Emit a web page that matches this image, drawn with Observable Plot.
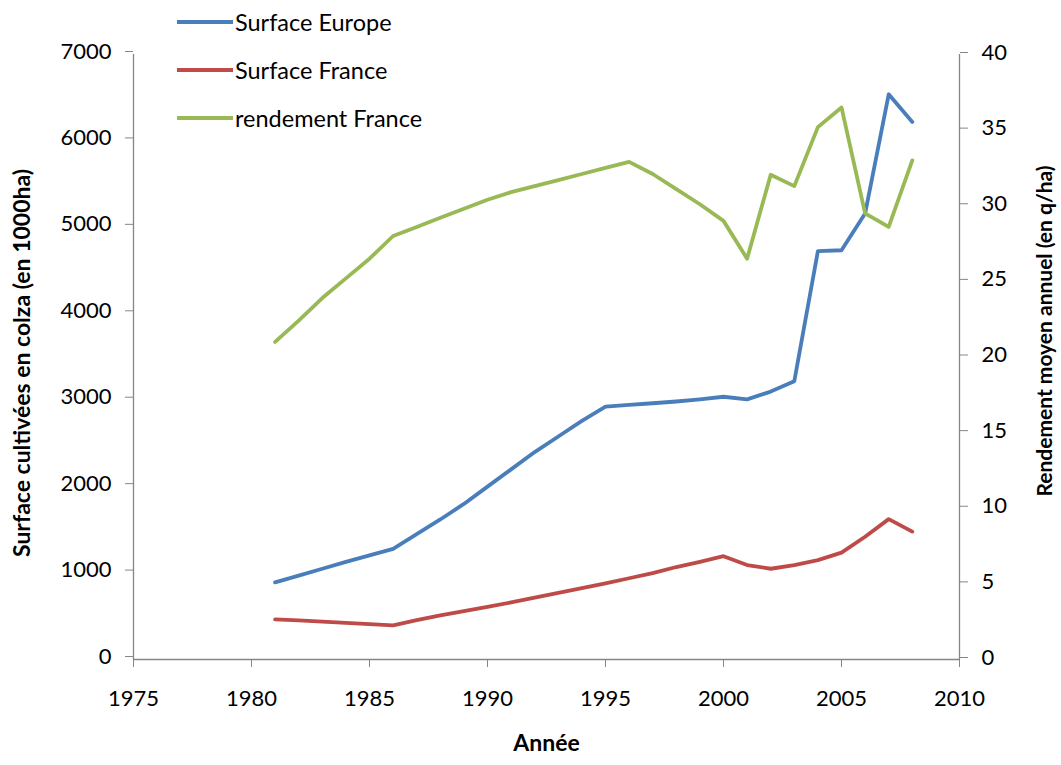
<!DOCTYPE html>
<html>
<head>
<meta charset="utf-8">
<script src="https://cdn.jsdelivr.net/npm/d3@7"></script>
<script src="https://cdn.jsdelivr.net/npm/@observablehq/plot@0.6"></script>
<style>
  html, body { margin: 0; padding: 0; background: #fff; }
  #wrap { position: relative; width: 1061px; height: 765px; font-family: Lato, "Open Sans", sans-serif; }
  #legend { position: absolute; left: 177px; top: 0; }
  .row { position: absolute; left: 0; height: 30px; display: flex; align-items: center; white-space: nowrap; font-size: 23.5px; color: #000; }
  .sw { width: 56px; height: 4px; margin-right: 2px; }
</style>
</head>
<body>
<div id="wrap"></div>
<script>
const years = [1981,1982,1983,1984,1985,1986,1987,1988,1989,1990,1991,1992,1993,1994,1995,1996,1997,1998,1999,2000,2001,2002,2003,2004,2005,2006,2007,2008];
const surfaceEurope = [892,970,1050,1130,1205,1280,1450,1620,1800,2000,2200,2400,2580,2760,2925,2945,2965,2985,3010,3040,3010,3100,3220,4725,4735,5160,6540,6220];
const surfaceFrance = [465,452,438,424,410,395,455,510,560,610,660,715,770,825,880,940,1000,1070,1130,1195,1093,1050,1093,1150,1236,1420,1624,1480];
const rendementFrance = [21.0,22.4,23.9,25.2,26.5,28.0,28.6,29.2,29.8,30.4,30.9,31.3,31.7,32.1,32.5,32.9,32.1,31.1,30.1,29.0,26.5,32.05,31.3,35.2,36.5,29.5,28.6,33.0];
const seriesNames = ["Surface Europe", "Surface France", "rendement France"];
const seriesColors = ["#4A7EBB", "#BE4B48", "#98B954"];
const xTicks = [1975,1980,1985,1990,1995,2000,2005,2010];
const leftTicks = [0,1000,2000,3000,4000,5000,6000,7000];
const rightTicks = [0,5,10,15,20,25,30,35,40];
const leftTitle = "Surface cultivées en colza (en 1000ha)";
const rightTitle = "Rendement moyen annuel (en q/ha)";
const xTitle = "Année";

const ratio = 7000 / 40;
const rows = [];
years.forEach((y, i) => {
  rows.push({year: y, value: surfaceEurope[i], s: seriesNames[0]});
  rows.push({year: y, value: surfaceFrance[i], s: seriesNames[1]});
  rows.push({year: y, value: rendementFrance[i] * ratio, s: seriesNames[2]});
});

const axisGray = "#868686";
const chart = Plot.plot({
  width: 1061,
  height: 765,
  marginLeft: 133,
  marginRight: 102,
  marginTop: 54,
  marginBottom: 106,
  style: {fontFamily: "Lato, 'Open Sans', sans-serif", fontSize: "22px", color: "#000", background: "#fff"},
  x: {domain: [1975, 2010]},
  y: {domain: [0, 7000]},
  color: {domain: seriesNames, range: seriesColors},
  marks: [
    Plot.ruleX([1975, 2010], {stroke: axisGray, strokeWidth: 1.3}),
    Plot.ruleY([0], {stroke: axisGray, strokeWidth: 1.3}),
    Plot.axisX(xTicks, {anchor: "bottom", tickSize: 8, tickPadding: 23, stroke: axisGray, fill: "#000", tickFormat: d => String(d), label: null}),
    Plot.axisY(leftTicks, {anchor: "left", tickSize: 8, tickPadding: 14, stroke: axisGray, fill: "#000", tickFormat: d => String(d), label: null, dy: -3}),
    Plot.axisY(rightTicks.map(v => v * ratio), {anchor: "right", tickSize: 8, tickPadding: 14, stroke: axisGray, fill: "#000", tickFormat: d => String(Math.round(d / ratio)), label: null, dy: -2}),
    Plot.line(rows, {x: "year", y: "value", z: "s", stroke: "s", strokeWidth: 3.8, strokeLinejoin: "round", strokeLinecap: "round"}),
    Plot.text([leftTitle], {frameAnchor: "left", textAnchor: "middle", rotate: -90, dx: -111, dy: 6, fontWeight: "bold", fontSize: 23}),
    Plot.text([rightTitle], {frameAnchor: "right", textAnchor: "middle", rotate: -90, dx: 86, dy: -26, fontWeight: "bold", fontSize: 21}),
    Plot.text([xTitle], {frameAnchor: "bottom", dy: 91, fontWeight: "bold", fontSize: 23})
  ]
});

const wrap = document.getElementById("wrap");
wrap.appendChild(chart);
const legend = document.createElement("div");
legend.id = "legend";
const centers = [22, 70, 118];
seriesNames.forEach((name, i) => {
  const row = document.createElement("div");
  row.className = "row";
  row.style.top = (centers[i] - 15) + "px";
  const sw = document.createElement("div");
  sw.className = "sw";
  sw.style.background = seriesColors[i];
  const t = document.createElement("span");
  t.textContent = name;
  row.appendChild(sw);
  row.appendChild(t);
  legend.appendChild(row);
});
wrap.appendChild(legend);
</script>
</body>
</html>
